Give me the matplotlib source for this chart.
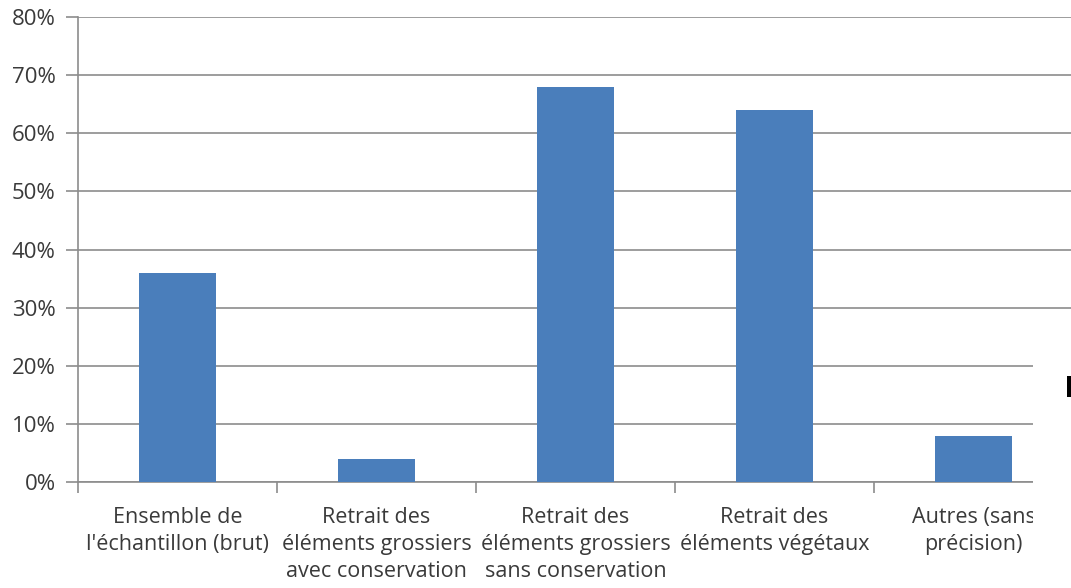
import matplotlib
matplotlib.use("Agg")
import matplotlib.pyplot as plt
from matplotlib.patches import Rectangle
from matplotlib.ticker import FuncFormatter, MultipleLocator, FixedLocator

categories = [
    "Ensemble de\nl'échantillon (brut)",
    "Retrait des\néléments grossiers\navec conservation",
    "Retrait des\néléments grossiers\nsans conservation",
    "Retrait des\néléments végétaux",
    "Autres (sans\nprécision)",
]
shares = [0.36, 0.04, 0.68, 0.64, 0.08]

BAR_COLOR = "#4A7EBB"
GRID_COLOR = "#8C8C8C"
TEXT_COLOR = "#3A3A3A"

plt.rcParams["font.family"] = ["Open Sans", "DejaVu Sans"]

W, H = 1071, 588
fig = plt.figure(figsize=(W / 100, H / 100), dpi=100)
ax = fig.add_axes([78 / W, (H - 482) / H, (1073 - 78) / W, (482 - 17) / H])

x = range(len(categories))
ax.bar(x, shares, width=0.39, color=BAR_COLOR, zorder=3)

ax.set_xlim(-0.5, len(categories) - 0.5)
ax.set_ylim(0, 0.8)

ax.yaxis.set_major_locator(MultipleLocator(0.1))
ax.yaxis.set_major_formatter(FuncFormatter(lambda v, _: f"{v * 100:.0f}%"))
ax.grid(axis="y", color=GRID_COLOR, linewidth=1.2, zorder=0)

# category labels at centres, tick marks at the boundaries
ax.set_xticks(list(x))
ax.set_xticklabels(categories, fontsize=15.5, color=TEXT_COLOR, linespacing=1.38)
ax.tick_params(axis="x", which="major", length=0, pad=18)
ax.xaxis.set_minor_locator(FixedLocator([i - 0.5 for i in range(len(categories) + 1)]))
ax.tick_params(axis="x", which="minor", length=8, color=GRID_COLOR, width=1.2)
ax.tick_params(axis="y", length=9, color=GRID_COLOR, width=1.2, pad=7,
               labelsize=16, labelcolor=TEXT_COLOR)

for side in ("top", "right"):
    ax.spines[side].set_visible(False)
for side in ("left", "bottom"):
    ax.spines[side].set_color(GRID_COLOR)
    ax.spines[side].set_linewidth(1.2)

# legend box edge sitting over the right margin
fig.add_artist(Rectangle((1033 / W, 0), (W - 1033) / W, (H - 340) / H,
                         transform=fig.transFigure, facecolor="white",
                         edgecolor="none", zorder=10))
fig.add_artist(Rectangle((1067 / W, (H - 397) / H), 5 / W, 21 / H,
                         transform=fig.transFigure, facecolor="black",
                         edgecolor="none", zorder=11))

fig.savefig("out.png", dpi=100)
